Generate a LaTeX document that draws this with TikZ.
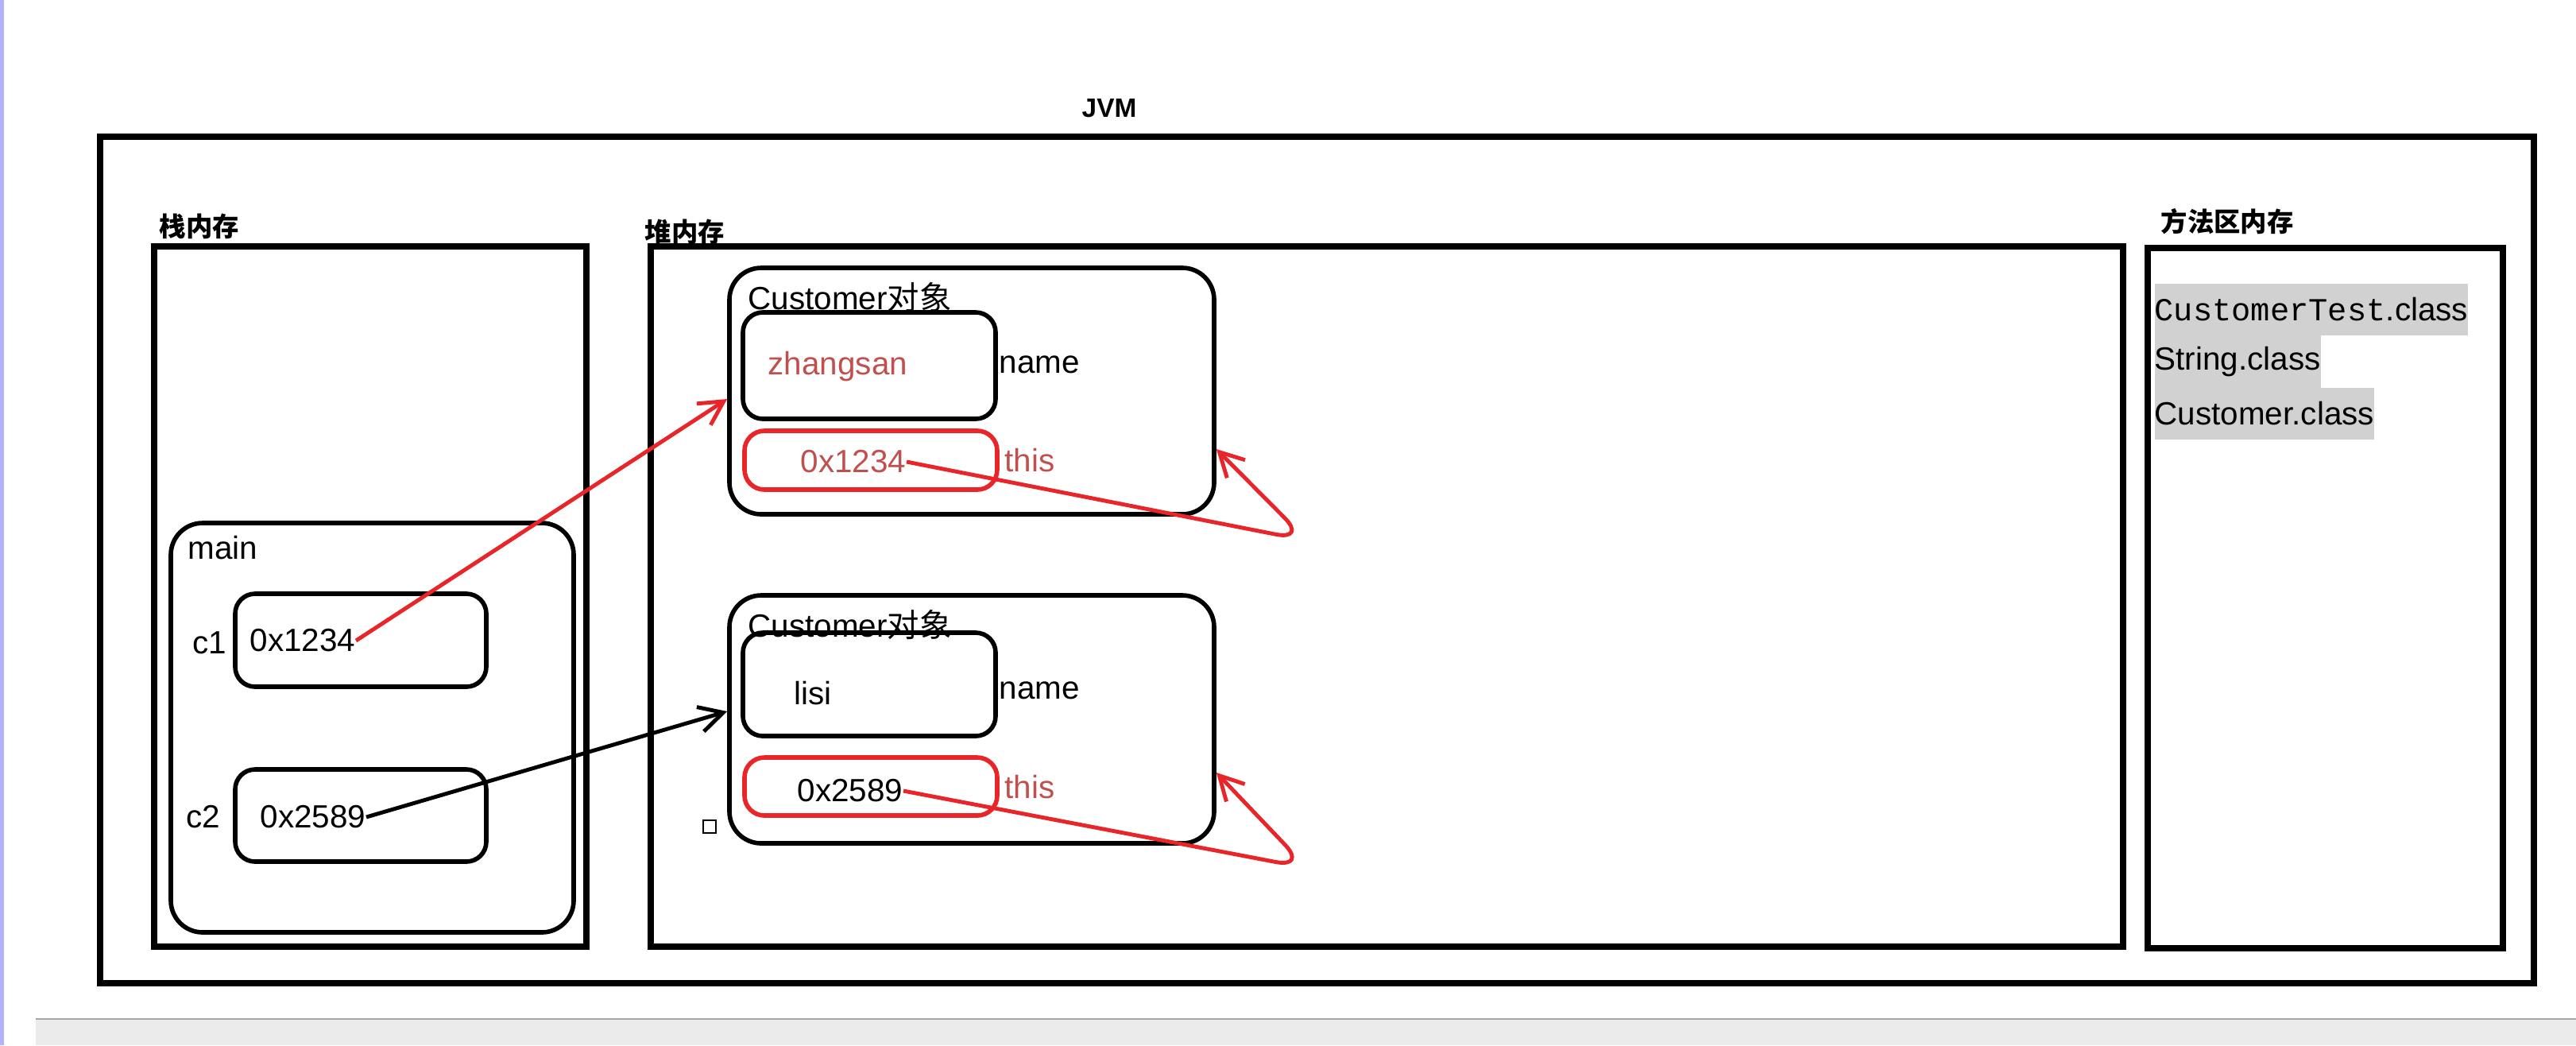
\documentclass[tikz,border=0pt]{standalone}
\usepackage{fontspec}
\setmainfont{Liberation Sans}
\setmonofont{Liberation Mono}
\newfontfamily\cjk{Noto Sans CJK SC}
\usetikzlibrary{arrows.meta}
\definecolor{textred}{HTML}{C0504D}
\definecolor{penred}{HTML}{E8262A}

\begin{document}
\begin{tikzpicture}[
    every node/.style = {font=\fontsize{11.5}{14}\selectfont, inner sep=0pt},
    area/.style = {draw, line width=2.2pt},
    tag/.style = {font=\bfseries\fontsize{9.5}{11}\selectfont},
    objbox/.style = {draw, line width=1.6pt, rounded corners=4mm},
    slot/.style = {draw, line width=1.6pt, rounded corners=2.5mm},
    refslot/.style = {slot, draw=penred},
    ref/.style = {-{Straight Barb[length=3mm,width=3.2mm]}, line width=1.4pt},
    classline/.style = {fill=black!18, anchor=west}
  ]
  \useasboundingbox (0,0) rectangle (32.42,-13.15);

  % window edges
  \fill[blue!30!white] (0,0) rectangle (0.05,-13.15);
  \fill[black!8] (0.45,-12.82) rectangle (32.42,-13.15);
  \draw[black!35] (0.45,-12.82) -- (32.42,-12.82);

  % jvm and its three areas
  \node[area, minimum width=30.63cm, minimum height=10.65cm] (jvm) at (16.575,-7.045) {};
  \node[tag] (jvmtag) at (13.96,-1.36) {JVM};
  \node[area, minimum width=5.44cm, minimum height=8.81cm] (stack) at (4.66,-7.505) {};
  \node[tag, anchor=west] (stacktag) at (2.00,-2.85) {\cjk\bfseries 栈内存};
  \node[area, minimum width=18.53cm, minimum height=8.81cm] (heap) at (17.455,-7.505) {};
  \node[tag, anchor=west] (heaptag) at (8.11,-2.92) {\cjk\bfseries 堆内存};
  \node[area, minimum width=4.47cm, minimum height=8.81cm] (method) at (29.265,-7.525) {};
  \node[tag, anchor=west] (methodtag) at (27.19,-2.79) {\cjk\bfseries 方法区内存};

  % stack frame
  \node[objbox, minimum width=5.07cm, minimum height=5.15cm] (main) at (4.685,-9.155) {};
  \node[anchor=west] (maintag) at (2.36,-6.89) {main};
  \node[slot, minimum width=3.16cm, minimum height=1.17cm] (c1) at (4.54,-8.055) {};
  \node[anchor=west] (v1) at (3.14,-8.06) {0x1234};
  \node[anchor=east] (c1tag) at (2.86,-8.09) {c1};
  \node[slot, minimum width=3.16cm, minimum height=1.16cm] (c2) at (4.54,-10.26) {};
  \node[anchor=west] (v2) at (3.27,-10.28) {0x2589};
  \node[anchor=east] (c2tag) at (2.78,-10.28) {c2};

  % first object
  \node[objbox, minimum width=6.10cm, minimum height=3.10cm] (obj1) at (12.23,-4.92) {};
  \node[anchor=west] (obj1tag) at (9.41,-3.74) {Customer{\cjk 对象}};
  \node[slot, minimum width=3.18cm, minimum height=1.34cm] (n1) at (10.94,-4.60) {};
  \node[anchor=west, text=textred] (s1) at (9.66,-4.61) {zhangsan};
  \node[anchor=west] (n1tag) at (12.57,-4.59) {name};
  \node[refslot, minimum width=3.18cm, minimum height=0.74cm] (r1) at (10.96,-5.79) {};
  \node[anchor=west, text=textred] (t1) at (10.07,-5.81) {0x1234};
  \node[anchor=west, text=textred] (r1tag) at (12.64,-5.79) {this};

  % second object
  \node[objbox, minimum width=6.10cm, minimum height=3.12cm] (obj2) at (12.23,-9.05) {};
  \node[anchor=west] (obj2tag) at (9.41,-7.86) {Customer{\cjk 对象}};
  \node[slot, minimum width=3.18cm, minimum height=1.30cm] (n2) at (10.94,-8.61) {};
  \node[anchor=west] (s2) at (9.99,-8.72) {lisi};
  \node[anchor=west] (n2tag) at (12.57,-8.69) {name};
  \node[refslot, minimum width=3.18cm, minimum height=0.73cm] (r2) at (10.96,-9.895) {};
  \node[anchor=west] (t2) at (10.03,-9.95) {0x2589};
  \node[anchor=west, text=textred] (r2tag) at (12.64,-9.90) {this};
  \node[draw, line width=0.8pt, minimum size=1.6mm] (mark) at (8.93,-10.40) {};

  % method area
  \node[classline, minimum height=6.5mm] (ct) at (27.11,-3.895) {\texttt{CustomerTest}.class};
  \node[classline, minimum height=6.6mm] (sc) at (27.11,-4.55) {String.class};
  \node[classline, minimum height=6.5mm] (cc) at (27.11,-5.205) {Customer.class};

  % references
  \draw[ref, penred] (v1.east) -- ([yshift=-1mm]obj1.west);
  \draw[ref] (v2.east) -- ([yshift=1mm]obj2.west);
  \coordinate (loop1) at (16.45,-6.80);
  \draw[ref, penred, rounded corners=4mm] (t1.east) -- (loop1) -- ([yshift=-7.3mm]obj1.east);
  \coordinate (loop2) at (16.45,-10.92);
  \draw[ref, penred, rounded corners=4mm] (t2.east) -- (loop2) -- ([yshift=-6.7mm]obj2.east);

\end{tikzpicture}
\end{document}
